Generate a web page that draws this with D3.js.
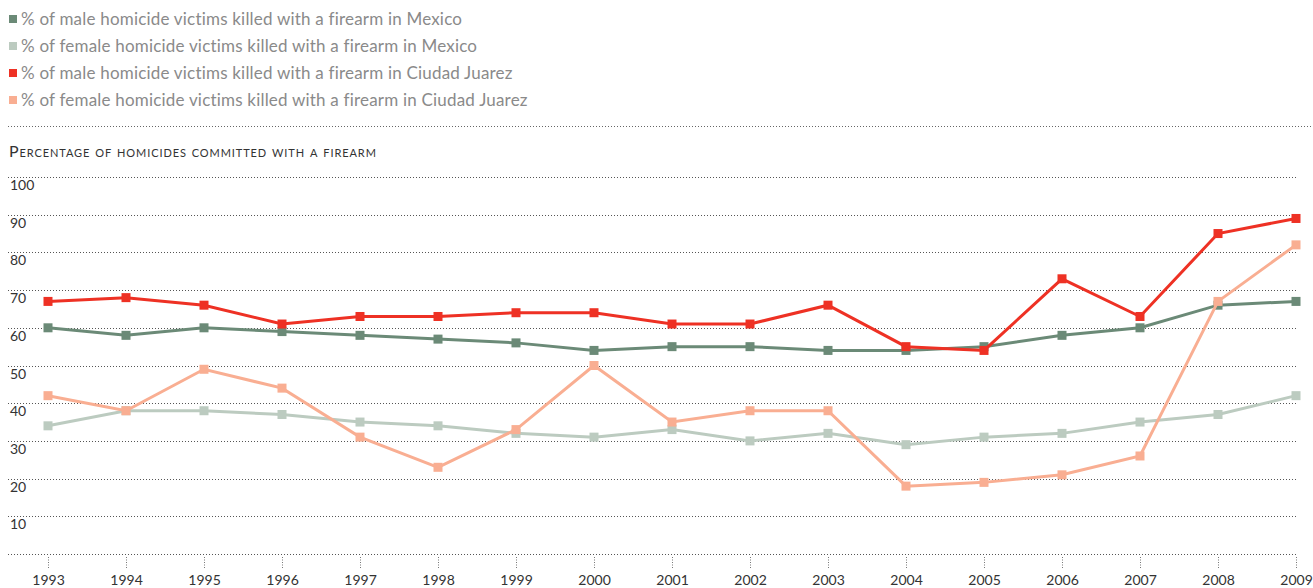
<!DOCTYPE html>
<html>
<head>
<meta charset="utf-8">
<script src="https://d3js.org/d3.v7.min.js"></script>
<style>
  body { margin: 0; background: #fff; }
  svg { display: block; font-family: Lato, "Open Sans", sans-serif; }
</style>
</head>
<body>
<svg id="chart" width="1313" height="588"></svg>
<script>
// Firearm homicides, Mexico vs Ciudad Juarez
var years = [1993, 1994, 1995, 1996, 1997, 1998, 1999, 2000, 2001, 2002, 2003, 2004, 2005, 2006, 2007, 2008, 2009];

var maleMexico   = [60, 58, 60, 59, 58, 57, 56, 54, 55, 55, 54, 54, 55, 58, 60, 66, 67];
var femaleMexico = [34, 38, 38, 37, 35, 34, 32, 31, 33, 30, 32, 29, 31, 32, 35, 37, 42];
var maleJuarez   = [67, 68, 66, 61, 63, 63, 64, 64, 61, 61, 66, 55, 54, 73, 63, 85, 89];
var femaleJuarez = [42, 38, 49, 44, 31, 23, 33, 50, 35, 38, 38, 18, 19, 21, 26, 67, 82];

var yTicks = [10, 20, 30, 40, 50, 60, 70, 80, 90, 100];

var series = [
    { name: "% of male homicide victims killed with a firearm in Mexico", values: maleMexico, color: "#6b8a77" },
    { name: "% of female homicide victims killed with a firearm in Mexico", values: femaleMexico, color: "#bccbc0" },
    { name: "% of male homicide victims killed with a firearm in Ciudad Juarez", values: maleJuarez, color: "#ee3124" },
    { name: "% of female homicide victims killed with a firearm in Ciudad Juarez", values: femaleJuarez, color: "#f9ae92" }
];

var svg = d3.select("#chart"),
    width = +svg.attr("width"),
    height = +svg.attr("height");

var x = d3.scalePoint().domain(years).range([48, 1296]);
var y = d3.scaleLinear().domain([0, 100]).range([554, 177]);

// legend
var legend = svg.append("g").selectAll("g")
    .data(series)
    .enter().append("g")
    .attr("transform", function (d, i) { return "translate(0," + (19 + i * 27) + ")"; });

legend.append("rect")
    .attr("x", 9).attr("y", -4)
    .attr("width", 8).attr("height", 8)
    .attr("fill", function (d) { return d.color; });

legend.append("text")
    .attr("x", 21).attr("y", 6)
    .attr("fill", "#8a8a8a")
    .style("font-size", "17px")
    .style("letter-spacing", "0.2px")
    .text(function (d) { return d.name; });

// separator
svg.append("line")
    .attr("x1", 8).attr("x2", width)
    .attr("y1", 126.5).attr("y2", 126.5)
    .attr("stroke", "#666").attr("stroke-dasharray", "1,2");

svg.append("text")
    .attr("x", 9).attr("y", 157)
    .attr("fill", "#333")
    .style("font-size", "16px")
    .style("font-variant", "small-caps")
    .style("letter-spacing", "0.9px")
    .text("Percentage of homicides committed with a firearm");

// horizontal grid
var grid = svg.append("g");
grid.selectAll("line")
    .data([0].concat(yTicks))
    .enter().append("line")
    .attr("x1", 8).attr("x2", 1297)
    .attr("y1", function (d) { return Math.round(y(d)) + 0.5; })
    .attr("y2", function (d) { return Math.round(y(d)) + 0.5; })
    .attr("stroke", "#555").attr("stroke-dasharray", "1,2");

grid.selectAll("text")
    .data(yTicks)
    .enter().append("text")
    .attr("x", 10)
    .attr("y", function (d) { return y(d) + 13; })
    .attr("fill", "#333")
    .style("font-size", "14px")
    .text(function (d) { return d; });

// x axis
var xAxis = svg.append("g")
    .attr("transform", "translate(0,557)")
    .call(d3.axisBottom(x).tickSize(11).tickPadding(7).tickFormat(d3.format("d")));
xAxis.select(".domain").remove();
xAxis.selectAll(".tick line").attr("stroke", "#777").attr("stroke-dasharray", "1,1.5");
xAxis.selectAll(".tick text")
    .attr("fill", "#333")
    .style("font-size", "14px")
    .style("font-family", "Lato, 'Open Sans', sans-serif");

// lines
var line = d3.line()
    .x(function (d, i) { return x(years[i]); })
    .y(function (d) { return y(d); });

var g = svg.append("g").selectAll("g")
    .data(series)
    .enter().append("g");

g.append("path")
    .attr("d", function (d) { return line(d.values); })
    .attr("fill", "none")
    .attr("stroke", function (d) { return d.color; })
    .attr("stroke-width", 3);

g.each(function (s) {
    d3.select(this).selectAll("rect")
        .data(s.values)
        .enter().append("rect")
        .attr("x", function (d, i) { return x(years[i]) - 4.5; })
        .attr("y", function (d) { return y(d) - 4.5; })
        .attr("width", 9).attr("height", 9)
        .attr("fill", s.color);
});
</script>
</body>
</html>
